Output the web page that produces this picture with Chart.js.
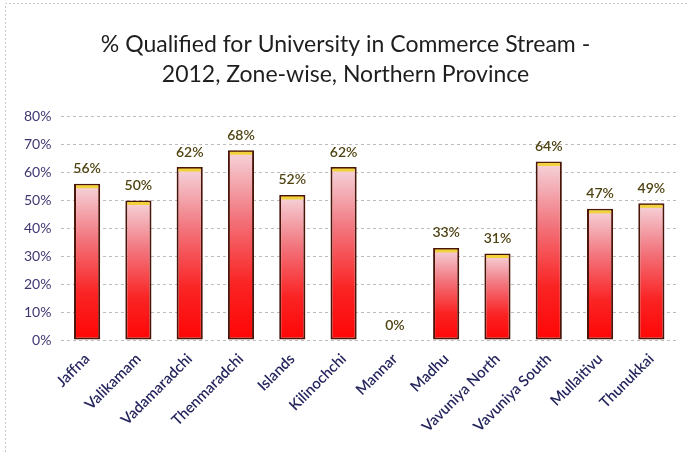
<!DOCTYPE html>
<html><head><meta charset="utf-8">
<script src="https://cdn.jsdelivr.net/npm/chart.js@4/dist/chart.umd.min.js"></script>
<style>html,body{margin:0;padding:0;background:#fff}#wrap{width:687px;height:452px;position:relative}</style>
</head><body><div id="wrap"><canvas id="c" width="687" height="452"></canvas></div>
<script>
const titleLines = ['% Qualified for University in Commerce Stream -', '2012, Zone-wise, Northern Province'];
const zones = ['Jaffna','Valikamam','Vadamaradchi','Thenmaradchi','Islands','Kilinochchi','Mannar','Madhu','Vavuniya North','Vavuniya South','Mullaitivu','Thunukkai'];
const qualifiedPct = [56,50,62,68,52,62,0,33,31,64,47,49];
const yTicks = [0,10,20,30,40,50,60,70,80];

function barGradient(ctx){
  const chart = ctx.chart;
  const y = chart.scales.y;
  if (!y || ctx.raw === undefined) return '#ff2020';
  const top = y.getPixelForValue(ctx.raw), bot = y.getPixelForValue(0);
  if (!isFinite(top) || !isFinite(bot) || bot - top < 1) return '#ff2020';
  const g = chart.ctx.createLinearGradient(0, top, 0, bot);
  g.addColorStop(0, '#f5d6dc');
  g.addColorStop(0.35, '#f2767e');
  g.addColorStop(0.7, '#fa2424');
  g.addColorStop(1, '#ff0505');
  return g;
}

const decor = {
  id: 'decor',
  beforeDraw(chart){
    const c = chart.ctx;
    c.save();
    c.strokeStyle = '#c8c8c8'; c.lineWidth = 1; c.setLineDash([2,2]);
    c.beginPath(); c.moveTo(5.5, 452); c.lineTo(5.5, 3.5); c.lineTo(687, 3.5); c.stroke();
    c.restore();
  },
  afterDatasetsDraw(chart){
    const c = chart.ctx;
    const meta = chart.getDatasetMeta(0);
    c.save();
    meta.data.forEach((bar, i) => {
      const v = qualifiedPct[i];
      if (v > 0) {
        c.fillStyle = '#f2d23a';
        c.fillRect(bar.x - bar.width/2 + 2, bar.y + 1.5, bar.width - 4, 3);
      }
      c.fillStyle = '#4f4312';
      c.font = '600 14px Lato';
      c.textAlign = 'center'; c.textBaseline = 'bottom';
      c.fillText(v + '%', bar.x, bar.y - 8);
    });
    c.restore();
  }
};

new Chart(document.getElementById('c'), {
  type: 'bar',
  data: { labels: zones, datasets: [{
    data: qualifiedPct,
    backgroundColor: barGradient,
    borderColor: '#4a1408',
    borderWidth: 2,
    borderSkipped: false,
    barPercentage: 0.51,
    categoryPercentage: 1.0
  }]},
  options: {
    responsive: false, animation: false,
    layout: { padding: { top: 20, right: 10, left: 14, bottom: 0 } },
    plugins: {
      legend: { display: false }, tooltip: { enabled: false },
      title: { display: true, text: titleLines, color: '#1e1e1e',
        font: { family: 'Lato', size: 23, weight: 'normal', lineHeight: 1.3 },
        padding: { top: 10, bottom: 27 } }
    },
    scales: {
      y: { min: 0, max: 80,
        afterBuildTicks(s){ s.ticks = yTicks.map(v => ({value: v})); },
        ticks: { callback: v => v + '%', color: '#3f3670', font: { family: 'Lato', size: 14 }, padding: 10 },
        grid: { color: '#bdbdbd', lineWidth: 1, drawTicks: false },
        border: { display: false, dash: [3,3] }
      },
      x: {
        afterFit(s){ s.height = 112; },
        ticks: { minRotation: 45, maxRotation: 45, autoSkip: false, color: '#26265e', font: { family: 'Lato', size: 15, weight: '600' }, padding: 2 },
        grid: { display: false },
        border: { display: false }
      }
    }
  },
  plugins: [decor]
});
</script></body></html>
